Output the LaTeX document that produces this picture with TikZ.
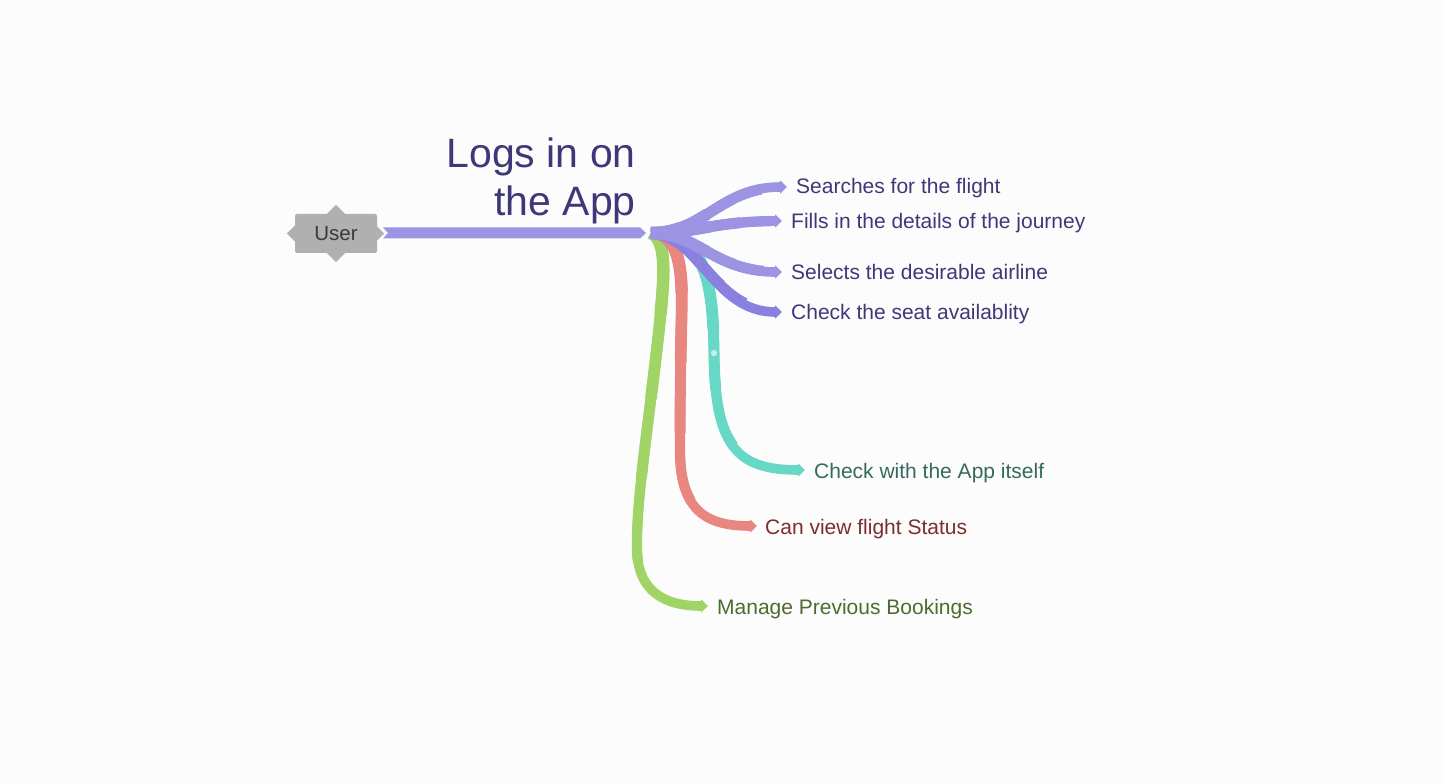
\documentclass[tikz,border=0pt]{standalone}
\usepackage{fontspec}
\setmainfont{Liberation Sans}
\usetikzlibrary{arrows.meta,calc}
\definecolor{bg}{HTML}{FCFCFC}
\definecolor{purA}{HTML}{9D93E3}
\definecolor{purB}{HTML}{8A80E0}
\definecolor{purT}{HTML}{3F3878}
\definecolor{tealL}{HTML}{66D8C5}
\definecolor{tealT}{HTML}{356B5E}
\definecolor{redL}{HTML}{E8877F}
\definecolor{redT}{HTML}{7A2F2E}
\definecolor{grnL}{HTML}{A0D466}
\definecolor{grnT}{HTML}{4E6A2E}
\definecolor{usr}{HTML}{B0B0B0}
\definecolor{usrT}{HTML}{3A3A3A}
\tikzset{
  branch/.style n args={5}{draw=#5, line width=9.6pt, -{Triangle[width=13pt,length=7pt]},
    preaction={draw=#5,-,line width=12.4pt,dash pattern=on #1pt off 3000pt},
    preaction={draw=#5,-,line width=11.7pt,dash pattern=on #2pt off 3000pt},
    preaction={draw=#5,-,line width=11pt,dash pattern=on #3pt off 3000pt},
    preaction={draw=#5,-,line width=10.3pt,dash pattern=on #4pt off 3000pt}},
  leaf/.style={anchor=base west, inner sep=0pt, font=\fontsize{21}{25}\selectfont},
}
\begin{document}
\begin{tikzpicture}[x=1pt,y=-1pt]
\fill[bg] (0,0) rectangle (1445,783);
\useasboundingbox (0,0) rectangle (1445,783);
% user node
\node[fill=usr, rounded corners=2pt, minimum width=82pt, minimum height=39pt, inner sep=0pt,
      text=usrT, font=\fontsize{20.5}{24}\selectfont] (user) at (336,233.5) {User};
\fill[usr] ($(user.north)+(-9,0)$) -- ($(user.north)+(0,-9)$) -- ($(user.north)+(9,0)$) -- cycle;
\fill[usr] ($(user.south)+(-9,0)$) -- ($(user.south)+(0,9)$) -- ($(user.south)+(9,0)$) -- cycle;
\fill[usr] ($(user.west)+(0,-8)$) -- ($(user.west)+(-8,0)$) -- ($(user.west)+(0,8)$) -- cycle;
\fill[usr] ($(user.east)+(0,-7)$) -- ($(user.east)+(7,0)$) -- ($(user.east)+(0,7)$) -- cycle;
% coordinates
\coordinate (ms) at (383,233);
\coordinate (me) at (646,233);
\coordinate (root) at (651,233);
% title
\node[anchor=base east, align=right, inner sep=0pt, text=purT,
      font=\fontsize{41}{48}\selectfont] (title) at (636,216) {Logs in on\\the App};
% leaves
\node[leaf, text=purT] (l1) at (796,194) {Searches for the flight};
\node[leaf, text=purT] (l2) at (791,229) {Fills in the details of the journey};
\node[leaf, text=purT] (l3) at (791,280) {Selects the desirable airline};
\node[leaf, text=purT] (l4) at (791,320) {Check the seat availablity};
\node[leaf, text=tealT] (l5) at (814,478) {Check with the App itself};
\node[leaf, text=redT] (l6) at (765,534) {Can view flight Status};
\node[leaf, text=grnT] (l7) at (717,614) {Manage Previous Bookings};
% branch ends
\coordinate (e1) at (787,187);
\coordinate (e2) at (782,221);
\coordinate (e3) at (782,272);
\coordinate (e4) at (782,312);
\coordinate (e5) at (805,470);
\coordinate (e6) at (757,526);
\coordinate (e7) at (708,606);
% colored branches
\path[branch={85}{170}{250}{335}{grnL}] (root) .. controls (668,240) and (664,280) .. (659,330)
   .. controls (648,430) and (636,500) .. (637,550)
   .. controls (638,592) and (665,606) .. (e7);
\path[branch={70}{140}{210}{280}{redL}] ($(root)+(5,0)$) .. controls (686,240) and (682,290) .. (681,340)
   .. controls (680,400) and (680,430) .. (680,450) .. controls (680,510) and (705,526) .. (e6);
\path[branch={60}{120}{180}{240}{tealL}] ($(root)+(10,0)$) .. controls (706,240) and (713,285) .. (714,353)
   .. controls (715,445) and (735,470) .. (e5);
\fill[tealL!40!white] (714,353) circle (3.2pt);
% purple branches
\path[branch={30}{60}{90}{120}{purB}] (root) .. controls (700,233) and (712,312) .. (e4);
\path[branch={30}{60}{90}{120}{purA}] (root) .. controls (700,233) and (712,272) .. (e3);
\path[branch={30}{60}{90}{120}{purA}] (root) .. controls (700,233) and (712,221) .. (e2);
\path[branch={30}{60}{90}{120}{purA}] (root) .. controls (706,233) and (718,187) .. (e1);
% main branch
\fill[purA] ($(ms)+(0,-5.5)$) -- ($(me)+(-6,-5.5)$) -- (me) -- ($(me)+(-6,5.5)$) -- ($(ms)+(0,5.5)$) -- ($(ms)+(5,0)$) -- cycle;
\end{tikzpicture}
\end{document}
